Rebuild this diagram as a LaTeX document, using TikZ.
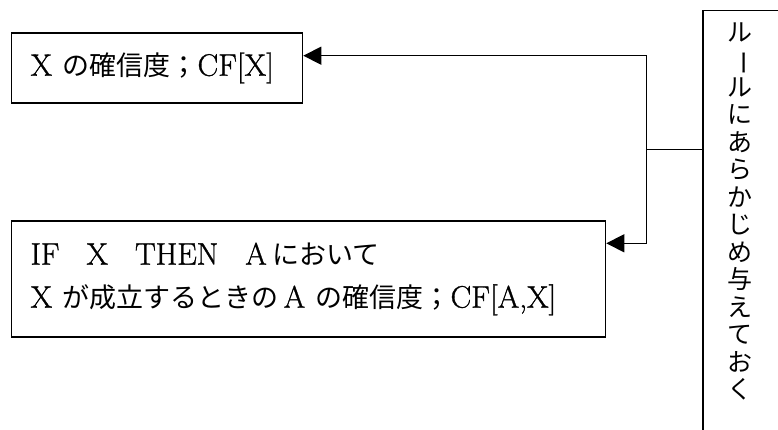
\documentclass[tikz,border=0pt]{standalone}
\usepackage{fontspec}
\usepackage{graphicx}
\setmainfont{Latin Modern Roman}[Scale=1.15,FakeBold=1.0]
\newfontfamily\jp{Noto Sans CJK JP}
\usetikzlibrary{arrows.meta}
\newcommand{\gapw}{\hspace{27pt}}
\tikzset{
  box/.style={draw, line width=1.3pt, inner xsep=19pt, inner ysep=0pt, align=left, anchor=west},
  conn/.style={line width=1.5pt, line join=miter, {Triangle[length=18pt,width=18pt]}-{Triangle[length=18pt,width=18pt]}},
  plain/.style={line width=1.5pt},
  txt/.style={font=\fontsize{27pt}{43pt}\selectfont},
  vtxt/.style={font=\fontsize{25pt}{27.5pt}\selectfont\jp, align=center, inner sep=0pt}
}
\begin{document}
\begin{tikzpicture}[x=1pt, y={(0pt,-1pt)}]
\clip (0,0) rectangle (778,430);
\fill[white] (0,0) rectangle (778,430);
\node[box, txt, text width=253pt, minimum height=70pt] (b1) at (11,68)
  {X {\jp の確信度；}CF[X]};
\node[box, txt, text width=556pt, minimum height=116pt] (b2) at (11,279)
  {IF\gapw X\gapw THEN\gapw A\,{\jp において}\\X {\jp が成立するときの}\,A {\jp の確信度；}CF[A,X]};
\node[draw, line width=1.5pt, anchor=north west, minimum width=100pt, minimum height=440pt, inner sep=0pt] (rb) at (702,10) {};
\node[vtxt] (vt) at (740,211.5)
  {ル\\\rotatebox[origin=c]{-90}{ー}\\ル\\に\\あ\\ら\\か\\じ\\め\\与\\え\\て\\お\\く};
\coordinate (j1) at (646.7,55.7);
\coordinate (jm) at (646.7,149.3);
\coordinate (j2) at (646.7,243.3);
\draw[conn] (j1 -| b1.east) -- (j1) -- (j2) -- (j2 -| b2.east);
\draw[plain] (jm) -- (jm -| rb.west);
\end{tikzpicture}
\end{document}
